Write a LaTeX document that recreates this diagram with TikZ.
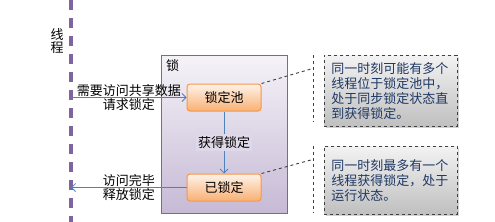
\documentclass[tikz,border=0pt]{standalone}
\usepackage{fontspec}
\setmainfont{Noto Sans CJK SC}
\usetikzlibrary{arrows.meta, positioning, shadows, calc}
\definecolor{threadPurple}{HTML}{8064A2}
\definecolor{flowBlue}{HTML}{4F81BD}
\definecolor{poolOrange}{HTML}{F79646}
\definecolor{noteInk}{HTML}{1F3864}
\tikzset{
    font=\fontsize{13}{15}\selectfont,
    >={Straight Barb[length=4pt, width=8pt]},
    % Colors
    lockPurple/.style={draw=threadPurple, top color=threadPurple!8, bottom color=threadPurple!45},
    stateOrange/.style={draw=poolOrange, top color=poolOrange!12, bottom color=poolOrange!75},
    noteGray/.style={draw=black!75, top color=gray!10, bottom color=gray!50},
    % Shapes
    lockbox/.style={rectangle, line width=1pt, minimum width=126pt, minimum height=158pt, lockPurple},
    statebox/.style={rectangle, line width=1pt, rounded corners=3pt, text=black,
                     minimum width=74pt, minimum height=27pt, align=center, stateOrange},
    notebox/.style={rectangle, dashed, line width=0.8pt, text width=119pt, inner sep=7pt,
                    minimum height=68pt, align=left, text=noteInk, noteGray,
                    drop shadow={opacity=0.35, shadow xshift=2pt, shadow yshift=-2pt}},
    % Flow & Labels
    thread/.style={line width=3.5pt, threadPurple, dash pattern=on 10pt off 8pt},
    flow/.style={line width=0.8pt, flowBlue},
    noteLink/.style={dashed, line width=0.9pt, black!75},
    lbl/.style={inner sep=1pt, align=center, text=black}
}

\begin{document}
\begin{tikzpicture}[x=1pt, y=-1pt, node distance=62pt and 30pt]

\useasboundingbox (0,0) rectangle (495,222);

% thread
\coordinate (threadTop) at (71,0);
\coordinate (threadBot) at (71,222);
\draw[thread] (threadTop) -- (threadBot);
\node[align=center, inner sep=0pt, font=\fontsize{13}{13}\selectfont] (threadLbl) at (57,41) {线\\程};

% lock
\node[lockbox, anchor=north west] (lock) at (161,55) {};
\node[anchor=north west, inner sep=0pt] (lockTitle) at (166,59) {锁};
\node[statebox] (pool) at (224,97.5) {锁定池};
\node[statebox, below=of pool] (locked) {已锁定};

\draw[flow, ->] (pool) -- node[lbl, fill=threadPurple!25, inner sep=2pt] {获得锁定} (locked);

% request / release
\coordinate (reqStart) at (threadTop |- pool.west);
\coordinate (relEnd) at (threadTop |- locked.west);
\draw[flow, ->] (reqStart) -- node[lbl, above] {需要访问共享数据} node[lbl, below] {请求锁定} (pool.west);
\draw[flow, ->] (locked.west) -- node[lbl, above] {访问完毕} node[lbl, below] {释放锁定} (relEnd);

% notes
\node[notebox, anchor=north west] (poolNote) at (324,55) {同一时刻可能有多个\\线程位于锁定池中，\\处于同步锁定状态直\\到获得锁定。};
\node[notebox, anchor=north west] (lockedNote) at (324,146) {同一时刻最多有一个\\线程获得锁定，处于\\运行状态。};

\coordinate (brkA) at (313,55);
\coordinate (brkB) at (313,122);
\coordinate (brkC) at (313,146);
\coordinate (brkD) at (313,213);
\draw[noteLink] (brkA) -- (brkB);
\draw[noteLink] (brkC) -- (brkD);
\draw[noteLink] (pool.north east) -- ($(brkA)!0.2!(brkB)$);
\draw[noteLink] (locked.north east) -- ($(brkC)!0.2!(brkD)$);

\end{tikzpicture}
\end{document}
